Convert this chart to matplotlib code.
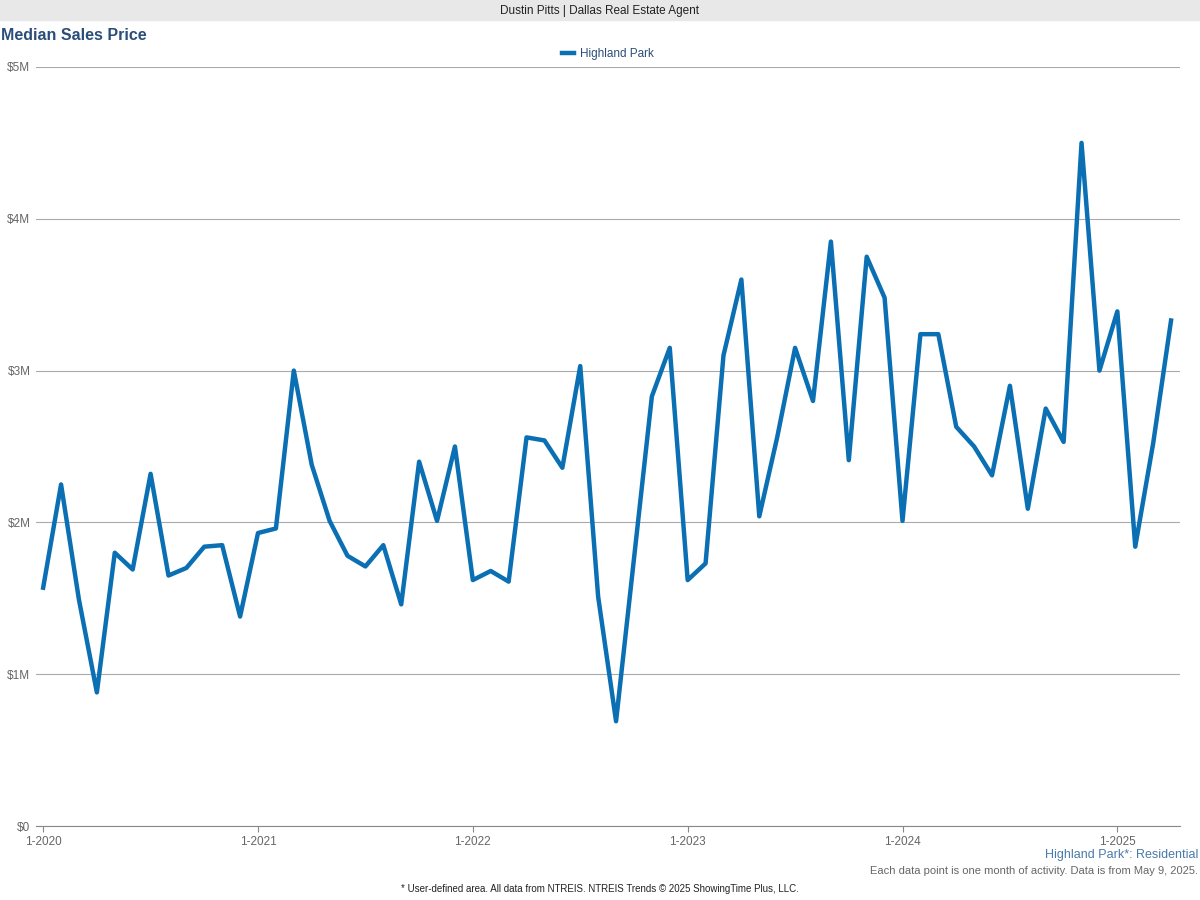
import matplotlib
matplotlib.use("Agg")
import matplotlib.pyplot as plt
from matplotlib.ticker import FuncFormatter

# monthly median sales price, $M, Jan 2020 .. Apr 2025
prices = [
    1.57, 2.25, 1.49, 0.88, 1.80, 1.69, 2.32, 1.65, 1.70, 1.84, 1.85, 1.38,
    1.93, 1.96, 3.00, 2.38, 2.01, 1.78, 1.71, 1.85, 1.46, 2.40, 2.01, 2.50,
    1.62, 1.68, 1.61, 2.56, 2.54, 2.36, 3.03, 1.51, 0.69, 1.76, 2.83, 3.15,
    1.62, 1.73, 3.10, 3.60, 2.04, 2.56, 3.15, 2.80, 3.85, 2.41, 3.75, 3.48,
    2.01, 3.24, 3.24, 2.63, 2.50, 2.31, 2.90, 2.09, 2.75, 2.53, 4.50, 3.00,
    3.39, 1.84, 2.52, 3.33,
]
tick_pos = [0, 12, 24, 36, 48, 60]
tick_labels = ["1-2020", "1-2021", "1-2022", "1-2023", "1-2024", "1-2025"]

BLUE = "#0b6fb3"
GRAY = "#666666"

fig = plt.figure(figsize=(12, 9), dpi=100)
fig.patches.append(plt.Rectangle((0, 1 - 20 / 900), 1, 20 / 900, transform=fig.transFigure,
                                 color="#e8e8e8", zorder=0))
fig.text(0.5, 1 - 11 / 900, "Dustin Pitts | Dallas Real Estate Agent", ha="center", va="center",
         fontsize=8.5, color="#222222", family="Liberation Sans")
fig.text(0.001, 1 - 35 / 900, "Median Sales Price", ha="left", va="center", fontsize=11.5,
         fontweight="bold", color="#2a4e7a", family="Liberation Sans")

ax = fig.add_axes([36 / 1200, 1 - 826 / 900, (1180 - 36) / 1200, (826 - 67) / 900])
ax.plot(range(len(prices)), prices, color=BLUE, linewidth=3.2, label="Highland Park",
        solid_joinstyle="round")
ax.set_xlim(-0.4, len(prices) - 1 + 0.5)
ax.set_ylim(0, 5)
ax.set_yticks([0, 1, 2, 3, 4, 5])
ax.yaxis.set_major_formatter(FuncFormatter(lambda v, _: f"${v:.0f}M" if v else "$0"))
ax.set_xticks(tick_pos)
ax.set_xticklabels(tick_labels)
ax.grid(axis="y", color="#aaaaaa", linewidth=0.8)
ax.set_axisbelow(True)
for s in ("top", "right", "left"):
    ax.spines[s].set_visible(False)
ax.spines["bottom"].set_color("#888888")
ax.tick_params(axis="y", length=0, labelsize=8.5, labelcolor=GRAY, pad=4)
ax.tick_params(axis="x", length=4, color="#888888", labelsize=8.5, labelcolor=GRAY)
for lab in ax.get_xticklabels() + ax.get_yticklabels():
    lab.set_family("Liberation Sans")
leg = ax.legend(loc="center", bbox_to_anchor=(0.5, 1 + 13 / 759), frameon=False,
                handlelength=1.0, handletextpad=0.5,
                prop={"family": "Liberation Sans", "size": 8.5})
for t in leg.get_texts():
    t.set_color("#2a4e7a")

fig.text(1 - 2 / 1200, 1 - 855 / 900, "Highland Park*: Residential", ha="right", va="center",
         fontsize=9, color="#4a7aaa", family="Liberation Sans")
fig.text(1 - 2 / 1200, 1 - 871 / 900, "Each data point is one month of activity. Data is from May 9, 2025.",
         ha="right", va="center", fontsize=8, color=GRAY, family="Liberation Sans")
fig.text(0.5, 1 - 889 / 900,
         "* User-defined area. All data from NTREIS. NTREIS Trends \u00a9 2025 ShowingTime Plus, LLC.",
         ha="center", va="center", fontsize=7, color="#222222", family="Liberation Sans")

fig.savefig("out.png", dpi=100)
